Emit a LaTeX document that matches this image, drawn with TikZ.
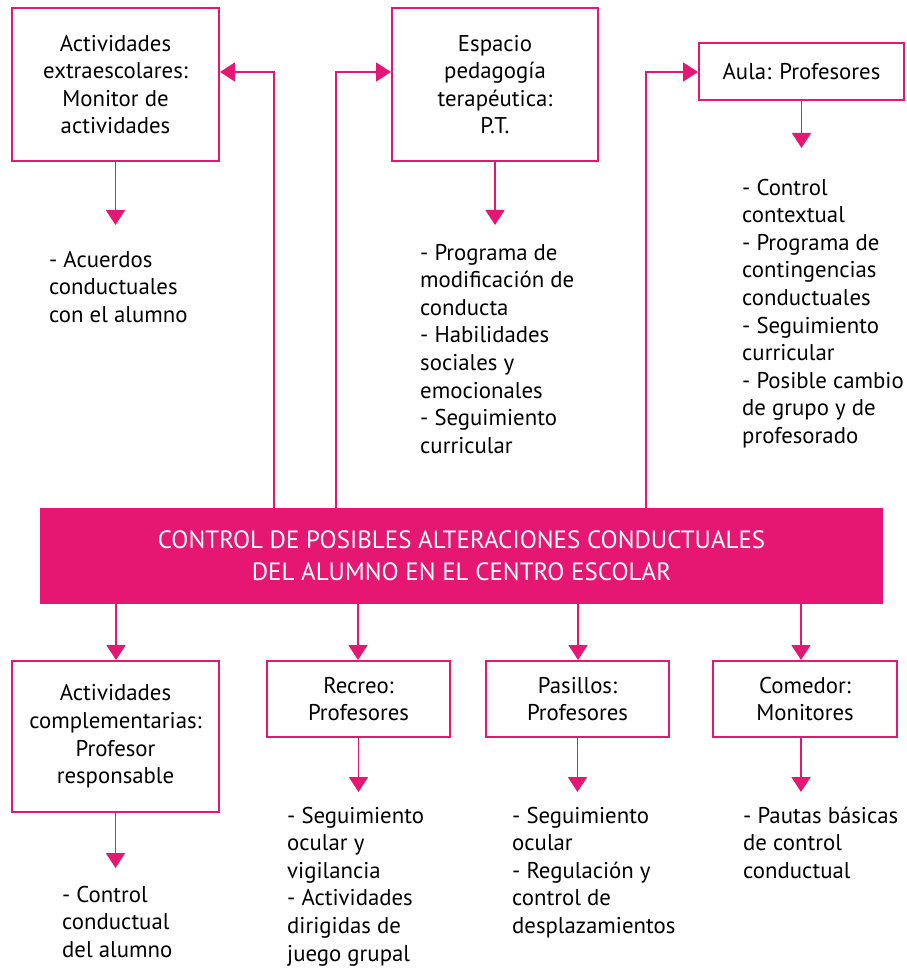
\documentclass[tikz,border=0pt]{standalone}
\usepackage{fontspec}
\setmainfont{PT Sans}
\usetikzlibrary{arrows.meta}
\definecolor{mag}{RGB}{229,23,115}
\begin{document}
\begin{tikzpicture}[x=1pt,y=-1pt,
  every node/.style={font=\fontsize{22.8}{27.6}\selectfont},
  box/.style={draw=mag,line width=2pt,align=center,inner sep=0pt},
  lst/.style={align=left,anchor=base west,inner sep=0pt},
  conn/.style={draw=mag,line width=1.8pt,-{Triangle[width=19pt,length=15pt]}}]
\useasboundingbox (0,0) rectangle (906,968);
% boxes
\node[box,minimum width=207pt,minimum height=153pt] (b1) at (115.5,84.5) {Actividades\\extraescolares:\\Monitor de\\actividades};
\node[box,minimum width=206pt,minimum height=153pt] (b2) at (495,84.5) {Espacio\\pedagogía\\terapéutica:\\P.T.};
\node[box,minimum width=205pt,minimum height=57pt] (au) at (801.5,71.5) {Aula: Profesores};
\node[fill=mag,text=white,align=center,inner sep=0pt,minimum width=843pt,minimum height=96pt,font=\fontsize{25}{32}\selectfont] (cen) at (461.5,556) {CONTROL DE POSIBLES ALTERACIONES CONDUCTUALES\\DEL ALUMNO EN EL CENTRO ESCOLAR};
\node[box,minimum width=207pt,minimum height=151pt] (cb1) at (115.5,736.5) {Actividades\\complementarias:\\Profesor\\responsable};
\node[box,minimum width=183pt,minimum height=76pt] (rec) at (358.5,699) {Recreo:\\Profesores};
\node[box,minimum width=183pt,minimum height=76pt] (pas) at (577.5,699) {Pasillos:\\Profesores};
\node[box,minimum width=184pt,minimum height=76pt] (com) at (805,699) {Comedor:\\Monitores};
% lists (anchor = baseline of last line)
\node[lst] (l1) at (49,322.2) {- Acuerdos\\conductuales\\con el alumno};
\node[lst] (l2) at (420,453.2) {- Programa de\\modificación de\\conducta\\- Habilidades\\sociales y\\emocionales\\- Seguimiento\\curricular};
\node[lst] (l3) at (742,443.4) {- Control\\contextual\\- Programa de\\contingencias\\conductuales\\- Seguimiento\\curricular\\- Posible cambio\\de grupo y de\\profesorado};
\node[lst] (l4) at (62,957.2) {- Control\\conductual\\del alumno};
\node[lst] (l5) at (287,961) {- Seguimiento\\ocular y\\vigilancia\\- Actividades\\dirigidas de\\juego grupal};
\node[lst] (l6) at (512,933.4) {- Seguimiento\\ocular\\- Regulación y\\control de\\desplazamientos};
\node[lst] (l7) at (743,878.2) {- Pautas básicas\\de control\\conductual};
% coordinates
\coordinate (k1) at (274,72);
\coordinate (k2) at (336,72);
\coordinate (k3) at (646,72);
\coordinate (d1) at (116,0);
\coordinate (d2) at (358,0);
\coordinate (d3) at (578,0);
\coordinate (d4) at (801,0);
\coordinate (e1) at (115.5,225);
\coordinate (e2) at (495,225);
\coordinate (e3) at (801.5,148);
\coordinate (e4) at (115.5,868);
\coordinate (e5) at (358.5,792);
\coordinate (e6) at (577.5,792);
\coordinate (e7) at (801,792);
% connectors up
\draw[conn] (cen.north -| k1) -- (k1) -- (k1 -| b1.east);
\draw[conn] (cen.north -| k2) -- (k2) -- (k2 -| b2.west);
\draw[conn] (cen.north -| k3) -- (k3) -- (k3 -| au.west);
% connectors down from center
\draw[conn] (cen.south -| d1) -- (cb1.north -| d1);
\draw[conn] (cen.south -| d2) -- (rec.north -| d2);
\draw[conn] (cen.south -| d3) -- (pas.north -| d3);
\draw[conn] (cen.south -| d4) -- (com.north -| d4);
% box to list arrows
\draw[conn] (b1.south) -- (e1);
\draw[conn] (b2.south) -- (e2);
\draw[conn] (au.south) -- (e3);
\draw[conn] (cb1.south) -- (e4);
\draw[conn] (rec.south) -- (e5);
\draw[conn] (pas.south) -- (e6);
\draw[conn] (com.south -| e7) -- (e7);
\end{tikzpicture}
\end{document}
